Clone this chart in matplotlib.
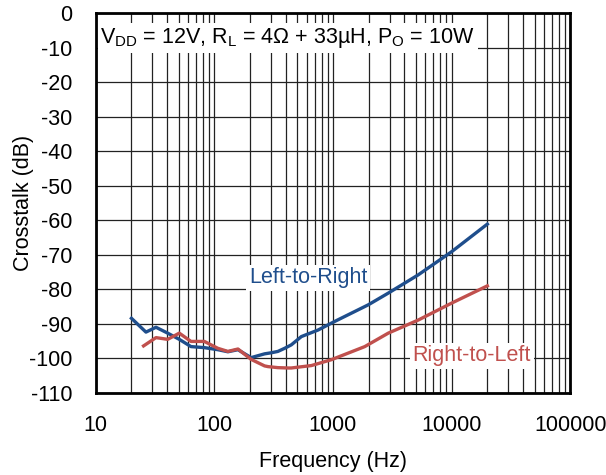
import matplotlib
matplotlib.use("Agg")
import matplotlib.pyplot as plt
from matplotlib.ticker import LogLocator, FixedLocator, NullFormatter

plt.rcParams["font.family"] = ["Liberation Sans", "DejaVu Sans"]
plt.rcParams["mathtext.fontset"] = "custom"
plt.rcParams["mathtext.rm"] = "Liberation Sans"
plt.rcParams["mathtext.default"] = "regular"

# Left-to-Right crosstalk (Hz, dB)
ltr_freq = [20, 26.5, 32.2, 40.4, 50.6, 63.5, 82.3, 107, 130, 158, 204,
            265, 301, 343, 391, 445, 541, 748, 1035, 1981, 2924, 5236, 10000, 20000]
ltr_db = [-88.4, -92.4, -91.0, -92.7, -94.5, -96.6, -96.9, -97.5, -98.1, -97.5, -99.8,
          -98.7, -98.4, -98.0, -97.1, -96.1, -93.7, -91.8, -89.3, -84.5, -81.1, -75.8, -69.1, -61.1]

# Right-to-Left crosstalk (Hz, dB)
rtl_freq = [25.3, 32.2, 40.4, 50.6, 63.5, 82.3, 107, 130, 158, 204,
            265, 283, 343, 417, 445, 657, 969, 1853, 2924, 5236, 10000, 20000]
rtl_db = [-96.4, -94.0, -94.5, -92.7, -95.1, -95.1, -97.1, -98.0, -97.3, -100.3,
          -102.2, -102.4, -102.7, -102.8, -102.8, -102.1, -100.4, -96.6, -92.7, -88.9, -84.0, -79.0]

x_ticks = [10, 100, 1000, 10000, 100000]
y_ticks = list(range(-110, 1, 10))

blue = "#1F4E8C"
red = "#C0504D"
fs = 15.5

fig = plt.figure(figsize=(6.06, 4.75), dpi=100)
ax = fig.add_axes([0.158, 0.173, 0.783, 0.799])

ax.plot(ltr_freq, ltr_db, color=blue, lw=2.4, solid_joinstyle="round", zorder=3)
ax.plot(rtl_freq, rtl_db, color=red, lw=2.4, solid_joinstyle="round", zorder=3)

ax.set_xscale("log")
ax.set_xlim(10, 100000)
ax.set_ylim(-110, 0)
ax.xaxis.set_major_locator(FixedLocator(x_ticks))
ax.set_xticklabels([str(t) for t in x_ticks])
ax.xaxis.set_minor_locator(LogLocator(base=10, subs=range(2, 10), numticks=20))
ax.xaxis.set_minor_formatter(NullFormatter())
ax.set_yticks(y_ticks)
ax.set_yticklabels([str(t) for t in y_ticks])

ax.grid(True, which="both", axis="x", color="#222222", lw=0.9)
ax.grid(True, which="major", axis="y", color="#222222", lw=0.9)
ax.tick_params(which="both", length=0, labelsize=fs)
ax.tick_params(axis="y", pad=17)
ax.tick_params(axis="x", pad=16)
for s in ax.spines.values():
    s.set_linewidth(2)

ax.set_xlabel("Frequency (Hz)", fontsize=fs, labelpad=11)
ax.set_ylabel("Crosstalk (dB)", fontsize=fs, labelpad=-4)

box = dict(facecolor="white", edgecolor="none", pad=2)
ax.text(0.01, 0.935, r"V$_{DD}$ = 12V, R$_{L}$ = 4Ω + 33µH, P$_{O}$ = 10W",
        transform=ax.transAxes, fontsize=fs, va="center", ha="left", bbox=box, zorder=4)
ax.text(620, -76.7, "Left-to-Right", color=blue, fontsize=fs,
        ha="center", va="center", bbox=box, zorder=4)
ax.text(14800, -99.3, "Right-to-Left", color=red, fontsize=fs,
        ha="center", va="center", bbox=box, zorder=4)

fig.savefig("out.png", dpi=100)
